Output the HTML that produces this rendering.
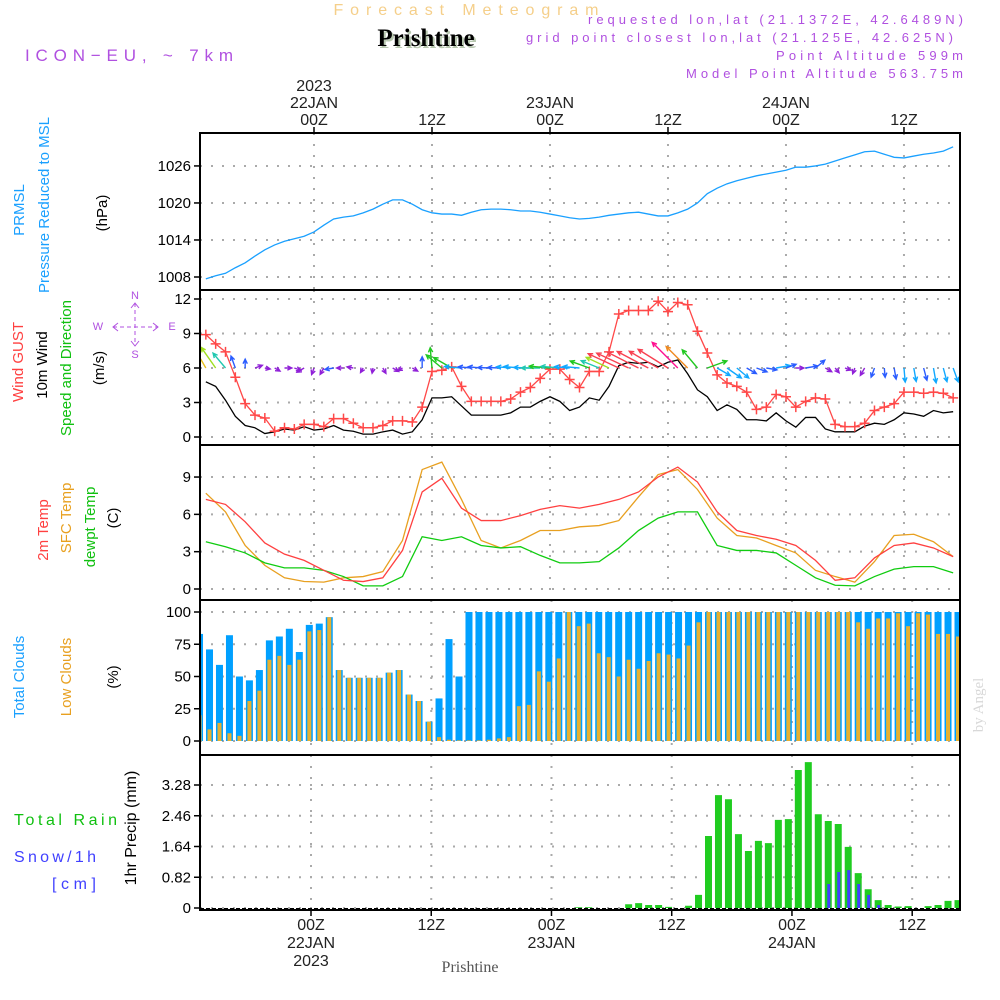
<!DOCTYPE html>
<html><head><meta charset="utf-8"><style>
html,body{margin:0;padding:0;background:#fff;}
svg{display:block;font-family:"Liberation Sans",sans-serif;}
</style></head><body>
<svg id="chart" width="1000" height="1000" viewBox="0 0 1000 1000" xmlns="http://www.w3.org/2000/svg">
<defs>
<clipPath id="plotclip"><rect x="200" y="133" width="760" height="777"/></clipPath>
</defs>
<g>
<text x="466" y="15" text-anchor="middle" font-size="16" fill="#f5cf8a" textLength="265">Forecast Meteogram</text>
<text x="428" y="48" text-anchor="middle" font-size="25" font-weight="bold" font-family="Liberation Serif,serif" fill="#b8c8b0">Prishtine</text>
<text x="426" y="46" text-anchor="middle" font-size="25" font-weight="bold" font-family="Liberation Serif,serif" fill="#000">Prishtine</text>
<text x="25" y="61" font-size="17" fill="#b050e0" textLength="208">ICON−EU, ~ 7km</text>
<text x="963" y="24" text-anchor="end" font-size="13" fill="#b050e0" textLength="375">requested lon,lat (21.1372E, 42.6489N)</text>
<text x="953" y="42" text-anchor="end" font-size="13" fill="#b050e0" textLength="427">grid point closest lon,lat (21.125E, 42.625N)</text>
<text x="963" y="60" text-anchor="end" font-size="13" fill="#b050e0" textLength="187">Point Altitude 599m</text>
<text x="963" y="78" text-anchor="end" font-size="13" fill="#b050e0" textLength="277">Model Point Altitude 563.75m</text>
</g>
<g font-size="15">
<text transform="translate(24,210) rotate(-90)" text-anchor="middle" fill="#1aa0ff">PRMSL</text>
<text transform="translate(49,205) rotate(-90)" text-anchor="middle" fill="#1aa0ff">Pressure Reduced to MSL</text>
<text transform="translate(107,213) rotate(-90)" text-anchor="middle" fill="#000">(hPa)</text>
<text transform="translate(23,362) rotate(-90)" text-anchor="middle" fill="#ff4040">Wind GUST</text>
<text transform="translate(47,365) rotate(-90)" text-anchor="middle" fill="#000">10m Wind</text>
<text transform="translate(71,368) rotate(-90)" text-anchor="middle" fill="#10c010">Speed and Direction</text>
<text transform="translate(104,368) rotate(-90)" text-anchor="middle" fill="#000">(m/s)</text>
<g fill="none" stroke="#b050e0" font-size="11">
<text x="135" y="299" text-anchor="middle" stroke="none" fill="#b050e0">N</text>
<text x="135" y="358" text-anchor="middle" stroke="none" fill="#b050e0">S</text>
<text x="98" y="330" text-anchor="middle" stroke="none" fill="#b050e0">W</text>
<text x="172" y="330" text-anchor="middle" stroke="none" fill="#b050e0">E</text>
<line x1="135" y1="303" x2="135" y2="346" stroke-dasharray="4,3"/>
<line x1="113" y1="327" x2="158" y2="327" stroke-dasharray="4,3"/>
<path d="M131,308L135,303L139,308M131,341L135,346L139,341M118,323L113,327L118,331M153,323L158,327L153,331"/>
</g>
<text transform="translate(48,530) rotate(-90)" text-anchor="middle" fill="#ff4040">2m Temp</text>
<text transform="translate(71,518) rotate(-90)" text-anchor="middle" fill="#e8a020">SFC Temp</text>
<text transform="translate(95,527) rotate(-90)" text-anchor="middle" fill="#10c010">dewpt Temp</text>
<text transform="translate(118,518) rotate(-90)" text-anchor="middle" fill="#000">(C)</text>
<text transform="translate(24,677) rotate(-90)" text-anchor="middle" fill="#1aa0ff">Total Clouds</text>
<text transform="translate(71,677) rotate(-90)" text-anchor="middle" fill="#e8a020">Low Clouds</text>
<text transform="translate(118,677) rotate(-90)" text-anchor="middle" fill="#000">(%)</text>
<text transform="translate(136,828) rotate(-90)" text-anchor="middle" fill="#000" font-size="16">1hr Precip (mm)</text>
<text x="14" y="825" fill="#10c010" font-size="16" textLength="103">Total  Rain</text>
<text x="14" y="862" fill="#4040ff" font-size="16" textLength="82">Snow/1h</text>
<text x="52" y="889" fill="#4040ff" font-size="16" textLength="44">[cm]</text>
</g>
<text transform="translate(983,705) rotate(-90)" text-anchor="middle" font-family="Liberation Serif,serif" font-size="15" fill="#d8d8d8">by Angel</text>
<text x="470" y="972" text-anchor="middle" font-family="Liberation Serif,serif" font-size="16" fill="#555">Prishtine</text>
<g id="plots"></g>
</svg>
<script>
// ---- data ----
const pressHours = [-11,-10,-9,-8,-7,-6,-5,-4,-3,-2,-1,0,1,2,3,4,5,6,7,8,9,10,11,12,13,14,15,16,17,18,19,20,21,22,23,24,25,26,27,28,29,30,31,32,33,34,35,36,37,38,39,40,41,42,43,44,45,46,47,48,49,50,51,52,53,54,55,56,57,58,59,60,61,62,63,64,65];
const pressure = [1007.7,1008.2,1008.6,1009.5,1010.3,1011.4,1012.4,1013.2,1013.8,1014.2,1014.6,1015.3,1016.4,1017.4,1017.7,1017.9,1018.4,1019.0,1019.8,1020.5,1020.5,1019.8,1018.9,1018.4,1018.2,1018.2,1018.0,1018.5,1018.9,1019.0,1019.0,1018.9,1018.7,1018.7,1018.5,1018.2,1017.9,1017.6,1017.4,1017.5,1017.7,1018.0,1018.2,1018.4,1018.5,1018.2,1017.9,1017.9,1018.4,1019.0,1020.0,1021.5,1022.4,1023.1,1023.6,1024.0,1024.4,1024.7,1025.0,1025.3,1025.8,1025.8,1026.0,1026.3,1026.8,1027.3,1027.8,1028.3,1028.4,1027.9,1027.4,1027.3,1027.6,1027.9,1028.1,1028.4,1029.1];
const gust = [8.9,8.1,7.4,5.2,2.9,1.9,1.65,0.5,0.8,0.7,1.1,1.1,0.9,1.6,1.6,1.2,0.8,0.8,1.0,1.4,1.4,1.3,2.6,5.7,5.8,6.1,4.4,3.1,3.1,3.1,3.1,3.3,3.9,4.3,5.1,5.9,5.9,5.0,4.3,5.7,5.7,7.4,10.7,11.0,11.0,11.0,11.8,10.9,11.7,11.5,9.2,7.3,5.4,4.7,4.4,3.9,2.4,2.6,3.7,3.5,2.6,3.1,3.4,3.3,1.1,0.9,0.9,1.2,2.3,2.6,2.9,3.9,3.9,3.8,3.9,3.8,3.4];
const wind10m = [4.8,4.4,3.2,1.8,1.0,0.8,0.3,0.45,0.7,0.6,0.9,0.6,0.7,1.0,0.6,0.5,0.25,0.25,0.45,0.6,0.25,0.45,1.5,3.4,3.4,3.5,2.7,1.9,1.9,1.9,1.9,2.1,2.6,2.6,3.1,3.5,3.1,2.3,2.6,3.4,3.2,4.4,6.2,6.5,6.4,6.5,6.1,6.5,6.7,5.5,4.1,3.5,2.3,2.8,2.4,1.5,1.5,1.4,2.1,1.4,0.85,1.7,1.7,0.7,0.45,0.45,0.45,0.95,1.2,1.1,1.5,2.1,2.0,1.8,2.3,2.1,2.2];
const windDir = [150,145,140,160,180,250,280,300,270,290,60,20,30,80,90,100,30,10,330,300,60,300,180,175,130,120,95,95,95,92,92,95,95,92,90,95,95,95,95,110,112,115,115,115,117,118,120,122,135,135,140,250,300,305,310,300,290,280,260,250,270,260,230,300,320,290,20,30,20,355,350,355,350,345,350,345,340];
const tempHours = [-11,-9,-7,-5,-3,-1,1,3,5,7,9,11,13,15,17,19,21,23,25,27,29,31,33,35,37,39,41,43,45,47,49,51,53,55,57,59,61,63,65];
const temp2m = [7.2,6.8,5.4,3.7,2.8,2.3,1.5,0.7,0.6,0.9,3.1,7.8,8.9,6.5,5.5,5.5,5.9,6.4,6.7,6.5,6.8,7.2,7.8,9.0,9.8,8.6,6.2,4.7,4.3,4.0,3.5,2.3,0.7,0.9,2.5,3.5,3.7,3.3,2.6];
const tempSfc = [7.7,6.2,3.5,1.9,0.9,0.6,0.55,0.9,1.0,1.4,3.9,9.6,10.2,7.2,3.9,3.3,3.9,4.7,4.7,5.0,5.1,5.5,7.4,9.2,9.6,8.0,5.7,4.3,4.1,3.5,2.9,1.5,1.0,0.55,2.2,4.3,4.4,3.8,2.6];
const dewpt = [3.8,3.4,2.9,2.1,1.7,1.7,1.5,1.0,0.25,0.25,1.0,4.2,3.9,4.2,3.5,3.3,3.4,2.7,2.1,2.1,2.2,3.3,4.7,5.7,6.2,6.2,3.5,3.1,3.1,2.9,1.9,0.9,0.3,0.25,1.0,1.6,1.8,1.8,1.3];
const cloudTotal = [83,71,59,82,50,47,55,78,81,87,69,90,91,96,55,49,49,49,49,53,55,36,31,15,33,79,50,100,100,100,100,100,100,100,100,100,100,100,100,100,100,100,100,100,100,100,100,100,100,100,100,100,100,100,100,100,100,100,100,100,100,100,100,100,100,100,100,100,100,100,100,100,100,100,100,100,100];
const cloudLow = [20,9,14,6,4,31,39,63,66,59,63,85,86,96,55,49,49,49,49,53,55,36,31,15,3,1,0.5,0.5,0.5,1,2,3,27,28,54,46,64,100,89,91,68,65,50,63,56,62,68,67,64,74,92,100,100,100,100,100,100,100,100,100,100,100,100,100,100,100,92,87,95,95,99,89,99,98,83,83,81];
const rain = [0,0,0,0,0,0,0,0,0,0,0,0,0,0,0,0,0,0,0,0,0,0,0,0,0,0,0,0,0,0,0,0,0,0,0,0,0,0,0.02,0.02,0,0,0,0.1,0.13,0.08,0.08,0.03,0,0.06,0.35,1.92,3.01,2.9,1.97,1.52,1.79,1.73,2.35,2.37,3.68,3.89,2.5,2.32,2.24,1.63,0.93,0.5,0.21,0.08,0.04,0.05,0,0.05,0.08,0.19,0.21];
const snow = [0,0,0,0,0,0,0,0,0,0,0,0,0,0,0,0,0,0,0,0,0,0,0,0,0,0,0,0,0,0,0,0,0,0,0,0,0,0,0,0,0,0,0,0,0,0,0,0,0,0,0,0,0,0,0,0,0,0,0,0,0,0,0,0.64,0.96,1.01,0.64,0.35,0.08,0,0,0,0,0,0,0,0];
const pressTicks = [1008,1014,1020,1026];
const windTicks = [0,3,6,9,12];
const tempTicks = [0,3,6,9];
const cloudTicks = [0,25,50,75,100];
const precipTicks = [0,0.82,1.64,2.46,3.28];
const topTickHours = [0,12,24,36,48,60];
const topTickLabels = [["2023","22JAN","00Z"],["12Z"],["23JAN","00Z"],["12Z"],["24JAN","00Z"],["12Z"]];
const botTickHours = [0,12,24,36,48,60];
const botTickLabels = [["00Z","22JAN","2023"],["12Z"],["00Z","23JAN"],["12Z"],["00Z","24JAN"],["12Z"]];

// ---- scales ----
const PL=200, PR=960;
const xLine = t => 314 + 9.833*t;
const xBar  = h => 309.3 + 9.98*h;
const xBot  = t => 311 + 10.02*t;
const yP = v => 277 - (v-1008)*6.17;
const yW = v => 437 - v*11.5;
const yT = v => 589 - v*12.44;
const yC = v => 741 - v*1.29;
const yR = v => 908 - v*37.5;
const panels = [[133,290,yP,pressTicks,xLine,'pressure-panel'],[290,445,yW,windTicks,xLine,'wind-panel'],[445,600,yT,tempTicks,xLine,'temperature-panel'],[600,755,yC,cloudTicks,xBot,'cloud-panel'],[755,910,yR,precipTicks,xBot,'precip-panel']];

const NS='http://www.w3.org/2000/svg';
const root=document.getElementById('plots');
function mk(tag,attrs,parent){const e=document.createElementNS(NS,tag);for(const k in attrs)e.setAttribute(k,attrs[k]);(parent||root).appendChild(e);return e;}

panels.forEach(p=>{
  const [top,bot,ys,ticks,xs,name]=p;
  const g=mk('g',{});
  
  
  ticks.forEach(v=>{
    const y=ys(v);
    const gl=mk('line',{x1:PL,x2:PR,y1:y,y2:y,stroke:'#aaa','stroke-width':2,'stroke-dasharray':'2,9'},g);
    
    
    const tk=mk('line',{x1:PL-6,x2:PL,y1:y,y2:y,stroke:'#000','stroke-width':1.5},g);
    
    
    const lb=mk('text',{x:PL-9,y:y+5,'text-anchor':'end','font-size':15,fill:'#000'},g);
    
    
    lb.textContent=String(v);
  });
  topTickHours.forEach(t=>{
    const x=xs(t);
    const vl=mk('line',{x1:x,x2:x,y1:top,y2:bot,stroke:'#aaa','stroke-width':2,'stroke-dasharray':'2,9'},g);
    
    
  });
});

const cg=mk('g',{'clip-path':'url(#plotclip)'});



const pp=mk('polyline',{points:pressHours.map((t,i)=>xLine(t)+','+yP(pressure[i])).join(' '),fill:'none',stroke:'#1aa0ff','stroke-width':1.3},cg);



const wl=mk('polyline',{points:pressHours.map((t,i)=>xLine(t)+','+yW(wind10m[i])).join(' '),fill:'none',stroke:'#000','stroke-width':1.3},cg);


const gl=mk('polyline',{points:pressHours.map((t,i)=>xLine(t)+','+yW(gust[i])).join(' '),fill:'none',stroke:'#ff4848','stroke-width':1.3},cg);


pressHours.forEach((t,i)=>{
  const x=xLine(t),y=yW(gust[i]);
  const m=mk('path',{d:`M${x-5},${y}H${x+5}M${x},${y-5}V${y+5}`,stroke:'#ff4848','stroke-width':1.5},cg);
  
  
});
function arrowColor(s){
  if(s<1)return '#9020d8'; if(s<2)return '#2a5cff'; if(s<3)return '#10a8ff'; if(s<3.3)return '#20c8b0';
  if(s<4.2)return '#20c820'; if(s<4.7)return '#a0e020'; if(s<5.2)return '#e8c020'; if(s<5.8)return '#f08a20';
  if(s<6.6)return '#f84050'; return '#ff1090';
}
pressHours.forEach((t,i)=>{
  const s=wind10m[i], to=(windDir[i]+180)*Math.PI/180, L=4+4.8*s;
  const x0=xLine(t), y0=yW(6);
  const dx=Math.sin(to), dy=-Math.cos(to);
  const x1=x0+dx*L, y1=y0+dy*L;
  const a=Math.atan2(dy,dx), h=5;
  const hx1=x1-h*Math.cos(a-0.45), hy1=y1-h*Math.sin(a-0.45);
  const hx2=x1-h*Math.cos(a+0.45), hy2=y1-h*Math.sin(a+0.45);
  const ar=mk('path',{d:`M${x0},${y0}L${x1},${y1}M${hx1},${hy1}L${x1},${y1}L${hx2},${hy2}`,stroke:arrowColor(s),'stroke-width':1.4,fill:'none'},cg);
  
  
});

[[tempSfc,'#e8a020','sfc-temp-line'],[dewpt,'#10cc10','dewpt-line'],[temp2m,'#ff4040','temp-2m-line']].forEach(s=>{
  const l=mk('polyline',{points:tempHours.map((t,i)=>xLine(t)+','+yT(s[0][i])).join(' '),fill:'none',stroke:s[1],'stroke-width':1.3},cg);
  
  
});

pressHours.forEach((h,i)=>{
  const x=xBar(h);
  const b=mk('rect',{x:x-3.5,y:yC(cloudTotal[i]),width:7,height:yC(0)-yC(cloudTotal[i]),fill:'#00a0ff'},cg);
  
  
  const o=mk('rect',{x:x-2,y:yC(cloudLow[i]),width:4,height:yC(0)-yC(cloudLow[i]),fill:'#e6b030'},cg);
  
  
});
pressHours.forEach((h,i)=>{
  const x=xBar(h);
  if(rain[i]>0){
    const b=mk('rect',{x:x-3.5,y:yR(rain[i]),width:7,height:yR(0)-yR(rain[i]),fill:'#20cc20'},cg);
    
    
  }
  if(snow[i]>0){
    const s=mk('rect',{x:x-1,y:yR(snow[i]),width:3,height:yR(0)-yR(snow[i]),fill:'#4040ff'},cg);
    
    
  }
});
const base=mk('line',{x1:PL,x2:PR,y1:909,y2:909,stroke:'#000','stroke-width':2,'stroke-dasharray':'4,2'});



panels.forEach(p=>{
  const f=mk('rect',{x:PL,y:p[0],width:PR-PL,height:p[1]-p[0],fill:'none',stroke:'#000','stroke-width':2});
  
  
});

topTickHours.forEach((t,i)=>{
  const x=xLine(t);
  const tk=mk('line',{x1:x,x2:x,y1:127,y2:133,stroke:'#000','stroke-width':1.5});
  
  
  const lines=topTickLabels[i];
  lines.forEach((s,j)=>{
    const tx=mk('text',{x:x,y:125-(lines.length-1-j)*17,'text-anchor':'middle','font-size':16,fill:'#222'});
    
    
    tx.textContent=s;
  });
});
botTickHours.forEach((t,i)=>{
  const x=xBot(t);
  const tk=mk('line',{x1:x,x2:x,y1:910,y2:916,stroke:'#000','stroke-width':1.5});
  
  
  botTickLabels[i].forEach((s,j)=>{
    const tx=mk('text',{x:x,y:930+j*18,'text-anchor':'middle','font-size':16,fill:'#222'});
    
    
    tx.textContent=s;
  });
});
</script>
</body></html>
